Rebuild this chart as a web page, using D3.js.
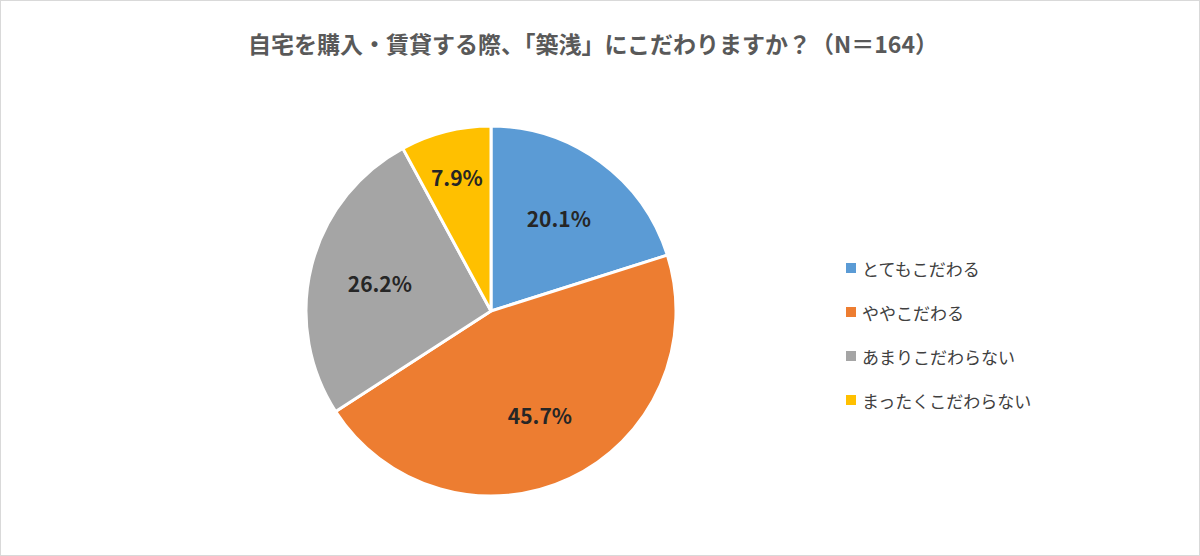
<!DOCTYPE html>
<html lang="ja"><head>
<meta charset="utf-8">
<script src="https://d3js.org/d3.v7.min.js"></script>
<style>
  body { margin: 0; background: #fff; }
  svg { font-family: "Noto Sans CJK JP", "Noto Sans", sans-serif; }
</style>
</head><body>
<div id="chart"></div>
<script>
const categories = ["とてもこだわる", "ややこだわる", "あまりこだわらない", "まったくこだわらない"];
const values = [20.1, 45.7, 26.2, 7.9];
const colors = ["#5B9BD5", "#ED7D31", "#A5A5A5", "#FFC000"];
const title = "自宅を購入・賃貸する際、「築浅」にこだわりますか？（N＝164）";

const W = 1200, H = 556;
const cx = 491, cy = 311, r = 185;

const svg = d3.select("#chart").append("svg")
  .attr("width", W).attr("height", H);

svg.append("rect")
  .attr("x", 0.5).attr("y", 0.5).attr("width", W - 1).attr("height", H - 1)
  .attr("fill", "#fff").attr("stroke", "#d9d9d9");

svg.append("text")
  .attr("x", 593).attr("y", 53)
  .attr("text-anchor", "middle")
  .style("font-size", "23px").style("font-weight", "bold")
  .attr("fill", "#595959")
  .text(title);

const color = d3.scaleOrdinal().domain(categories).range(colors);
const pie = d3.pie().sort(null).value(d => d.v);
const data = pie(categories.map((c, i) => ({ c, v: values[i] })));
const arc = d3.arc().innerRadius(0).outerRadius(r);
// small slices get their label pushed further out
const labelArc = d => d3.arc().innerRadius(0).outerRadius(d.data.v < 10 ? r * 1.5 : r * 1.24).centroid(d);

const g = svg.append("g").attr("transform", `translate(${cx},${cy})`);
g.selectAll("path").data(data).join("path")
  .attr("d", arc)
  .attr("fill", d => color(d.data.c))
  .attr("stroke", "#fff").attr("stroke-width", 3);

g.selectAll("text").data(data).join("text")
  .attr("transform", d => `translate(${labelArc(d)})`)
  .attr("text-anchor", "middle")
  .attr("dominant-baseline", "central")
  .style("font-size", "21px").style("font-weight", "bold")
  .attr("fill", "#262626")
  .text(d => d.data.v.toFixed(1) + "%");

// legend
const lg = svg.append("g");
categories.forEach((c, i) => {
  const y = 268 + i * 44;
  lg.append("rect").attr("x", 846).attr("y", y - 5).attr("width", 10).attr("height", 10)
    .attr("fill", color(c));
  lg.append("text").attr("x", 862).attr("y", y)
    .attr("dominant-baseline", "central")
    .style("font-size", "17px").attr("fill", "#404040")
    .text(c);
});
</script>
</body></html>
